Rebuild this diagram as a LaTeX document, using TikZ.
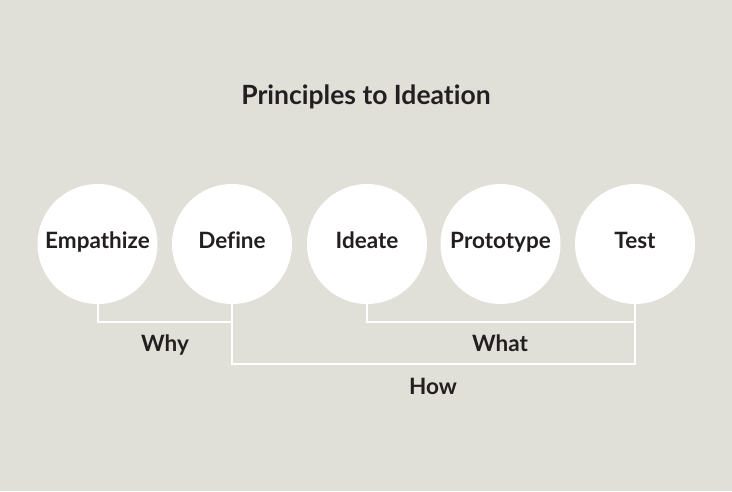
\documentclass[tikz,border=0pt]{standalone}
\usepackage{fontspec}
\setmainfont{Lato}[Ligatures=NoCommon]
\usepackage{tikz}

\definecolor{bgcol}{HTML}{E0DFD8}
\definecolor{inkcol}{HTML}{231F20}

\tikzset{
  stage/.style={circle, fill=white, minimum size=120pt, inner sep=0pt,
    text=inkcol, font=\fontsize{22.5}{26}\selectfont\bfseries,
    text height=15.5pt, text depth=7pt},
  tag/.style={text=inkcol, font=\fontsize{22.5}{26}\selectfont\bfseries,
    text height=15.5pt, text depth=0pt},
  link/.style={white, line width=2pt}
}

\begin{document}
\begin{tikzpicture}[x=1pt, y=-1pt]
            \fill[bgcol] (0,0) rectangle (732,491);
            \useasboundingbox (0,0) rectangle (732,491);

            \node[text=inkcol, font=\fontsize{26.5}{30}\selectfont\bfseries, text height=18.5pt, text depth=0pt] (title) at (366,95.5) {Principles to Ideation};

            \node[stage] (emp) at (97.5,244) {Empathize};
            \node[stage] (def) at (232,244) {Define};
            \node[stage] (ide) at (367,244) {Ideate};
            \node[stage] (pro) at (500.5,244) {Prototype};
            \node[stage] (tst) at (635,244) {Test};

            %\draw[step=10pt,gray,very thin] (0,0) grid (732,491);

            \coordinate (whyEnd) at (233,322);
            \coordinate (whatEnd) at (635,322);
            \coordinate (howEnd) at (635,364);

            \draw[link] (emp.south) |- (whyEnd);
            \draw[link] (ide.south) |- (whatEnd);
            \draw[link] (def.south) |- (howEnd) -- (tst.south);

            \node[tag] (why) at (165,344) {Why};
            \node[tag] (what) at (500,344) {What};
            \node[tag] (how) at (433,386.5) {How};
        \end{tikzpicture}
\end{document}
